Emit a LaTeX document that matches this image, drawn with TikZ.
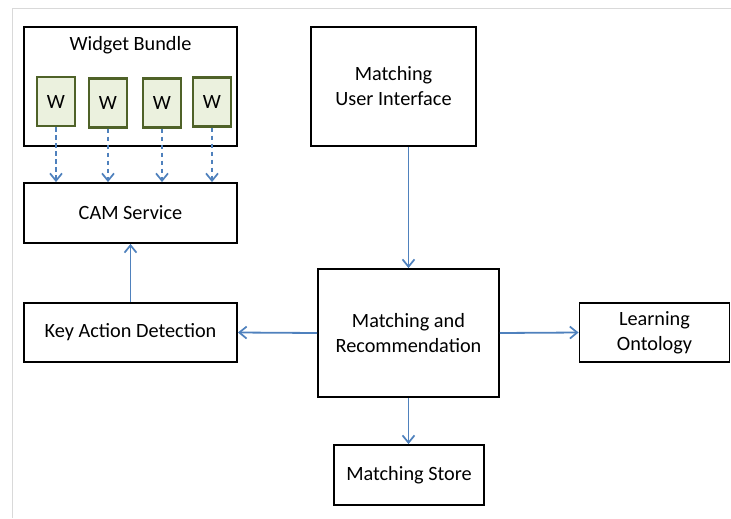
\documentclass[tikz,border=0pt]{standalone}
\usepackage{fontspec}
\setmainfont{Carlito}
\usetikzlibrary{arrows.meta}
\definecolor{arrowblue}{HTML}{4F81BD}
\definecolor{wfill}{HTML}{EBF1DE}
\definecolor{wdraw}{HTML}{4F6228}
\definecolor{framegray}{HTML}{D9D9D9}
\tikzset{
  txt/.style={font=\fontsize{15.2}{18.8}\selectfont},
  box/.style={draw=black, line width=1.4pt, fill=white, rectangle, align=center, inner sep=2pt, txt},
  wbox/.style={draw=wdraw, line width=1.6pt, fill=wfill, rectangle, minimum width=38*0.75pt, minimum height=49*0.75pt, inner sep=0pt, txt},
  flow/.style={draw=arrowblue, line width=1.35pt, -{Straight Barb[length=5.5pt,width=9pt,line width=1.3pt]}},
  dflow/.style={flow, dash pattern=on 3.5pt off 2.5pt},
}
\begin{document}
\begin{tikzpicture}[x=0.75pt,y=-0.75pt]
\useasboundingbox (0,0) rectangle (731,518);
% frame
\draw[framegray, line width=1.2pt] (12.5,518) -- (12.5,8.5) -- (731,8.5);
% Widget bundle
\node[box, minimum width=213*0.75pt, minimum height=119*0.75pt] (wb) at (130.5,86.5) {};
\node[txt, inner sep=0pt] (wbt) at (130.5,45) {Widget Bundle};
\node[wbox] (w1) at (56,101.5) {W};
\node[wbox] (w2) at (108,103) {W};
\node[wbox] (w3) at (162,103) {W};
\node[wbox] (w4) at (212,102) {W};
% CAM service
\node[box, minimum width=213*0.75pt, minimum height=60*0.75pt] (cam) at (130.5,213) {CAM Service};
% Key action detection
\node[box, minimum width=213*0.75pt, minimum height=59*0.75pt] (kad) at (130.5,332.5) {Key Action Detection};
% Matching UI
\node[box, minimum width=165*0.75pt, minimum height=119*0.75pt] (mui) at (393.5,86.5) {Matching\\User Interface};
% Matching and recommendation
\node[box, minimum width=181*0.75pt, minimum height=128*0.75pt] (mr) at (408.5,333) {Matching and\\Recommendation};
% Learning ontology
\node[box, minimum width=150*0.75pt, minimum height=59*0.75pt] (lo) at (654.5,332.5) {Learning\\Ontology};
% Matching store
\node[box, minimum width=150*0.75pt, minimum height=60*0.75pt] (ms) at (409,475) {Matching Store};
% connectors
\foreach \w in {w1,w2,w3,w4}{
  \draw[dflow] (\w.south) -- (\w.south |- cam.north);
}
\draw[flow] (kad.north) -- (cam.south);
\draw[flow] (mr.north |- mui.south) -- (mr.north);
\draw[flow] (mr.west) -- (kad.east);
\draw[flow] (mr.east) -- (lo.west);
\draw[flow] (mr.south) -- (mr.south |- ms.north);
\end{tikzpicture}
\end{document}
